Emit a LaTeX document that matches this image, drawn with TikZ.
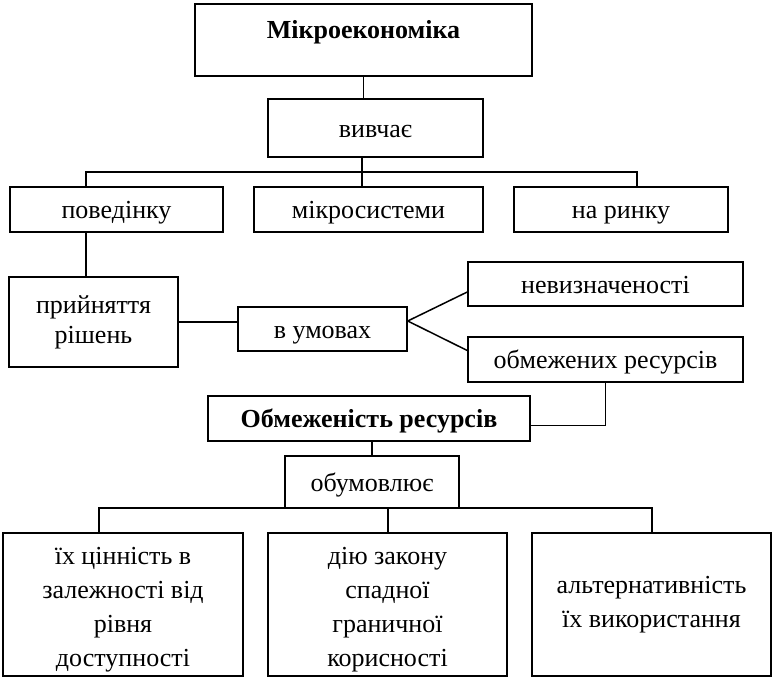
\documentclass[tikz,border=0pt]{standalone}
\usepackage{fontspec}
\setmainfont{Liberation Serif}
\usetikzlibrary{calc}
\tikzset{
  plain box/.style={
    draw,
    line width=1.5pt,
    inner sep=0pt,
    align=center,
    font=\fontsize{26}{30}\selectfont
  },
  line box/.style={
    plain box,
    text height=20pt,
    text depth=2pt
  },
  title box/.style={
    line box,
    font=\fontsize{26}{30}\selectfont\bfseries
  },
  tall box/.style={
    plain box,
    minimum width=239pt,
    minimum height=143pt,
    font=\fontsize{26}{34}\selectfont
  },
  link/.style={
    line width=1.5pt
  }
}
\newcommand{\topgap}{\rule{0pt}{27pt}}
\begin{document}
\begin{tikzpicture}[x=1pt, y=-1pt]
    % рамка рисунка: 773 x 677
    \useasboundingbox (0,0) rectangle (773,677);

    % верхній рівень
    \node[title box, minimum width=337pt, text height=34pt, text depth=38pt] (mikro) at (363.5,40) {Мікроекономіка};
    \node[line box, minimum width=215pt, minimum height=58pt] (vyvchaie) at (375.5,128) {вивчає};

    % що вивчає
    \node[line box, minimum width=213pt, minimum height=45pt] (povedinku) at (116.5,209.5) {поведінку};
    \node[line box, minimum width=229pt, minimum height=45pt] (mikrosys) at (368.5,209.5) {мікросистеми};
    \node[line box, minimum width=214pt, minimum height=45pt] (narynku) at (621,209.5) {на ринку};

    % прийняття рішень в умовах
    \node[plain box, minimum width=169pt, minimum height=90pt] (rishen) at (93.5,322) {прийняття\\рішень};
    \node[line box, minimum width=169pt, minimum height=44pt] (umovy) at (322.5,329) {в умовах};
    \node[line box, minimum width=275pt, minimum height=44pt] (nevyzn) at (605.5,284) {невизначеності};
    \node[line box, minimum width=275pt, minimum height=45pt] (obmezh) at (605.5,359.5) {обмежених ресурсів};

    % обмеженість ресурсів
    \node[title box, minimum width=322pt, minimum height=45pt] (resursy) at (369,418.5) {Обмеженість ресурсів};
    \node[line box, minimum width=174pt, minimum height=52pt] (obumovl) at (372,482) {обумовлює};

    % наслідки
    \node[tall box, minimum width=240pt] (tsinnist) at (123,604.5) {\topgap їх цінність в\\залежності від\\рівня\\доступності};
    \node[tall box] (zakon) at (387.5,604.5) {\topgap дію закону\\спадної\\граничної\\корисності};
    \node[tall box] (alternat) at (651.5,604.5) {альтернативність\\їх використання};

    % шини розгалуження
    \coordinate (bus l) at (86,172);
    \coordinate (bus m) at (362,172);
    \coordinate (bus r) at (637,172);
    \coordinate (low l) at (99,508);
    \coordinate (low m) at (388,508);
    \coordinate (low r) at (652,508);

    % з'єднання
    \draw[link] (mikro.south) -- (mikro.south |- vyvchaie.north);
    \draw[link] (vyvchaie.south -| bus m) -- (mikrosys.north -| bus m);
    \draw[link] (povedinku.north -| bus l) -- (bus l) -- (bus r) -- (narynku.north -| bus r);
    \draw[link] (povedinku.south -| bus l) -- (rishen.north -| bus l);
    \draw[link] (rishen.east) -- (rishen.east -| umovy.west);
    \draw[link] ([yshift=8pt]umovy.east) -- ([yshift=-8pt]nevyzn.west);
    \draw[link] ([yshift=8pt]umovy.east) -- ([yshift=9pt]obmezh.west);
    \draw[link] (obmezh.south) |- ([yshift=-7pt]resursy.east);
    \draw[link] (resursy.south -| obumovl.north) -- (obumovl.north);
    \draw[link] (tsinnist.north -| low l) -- (low l) -- (low r) -- (alternat.north -| low r);
    \draw[link] (low m) -- (zakon.north -| low m);

  \end{tikzpicture}
\end{document}
